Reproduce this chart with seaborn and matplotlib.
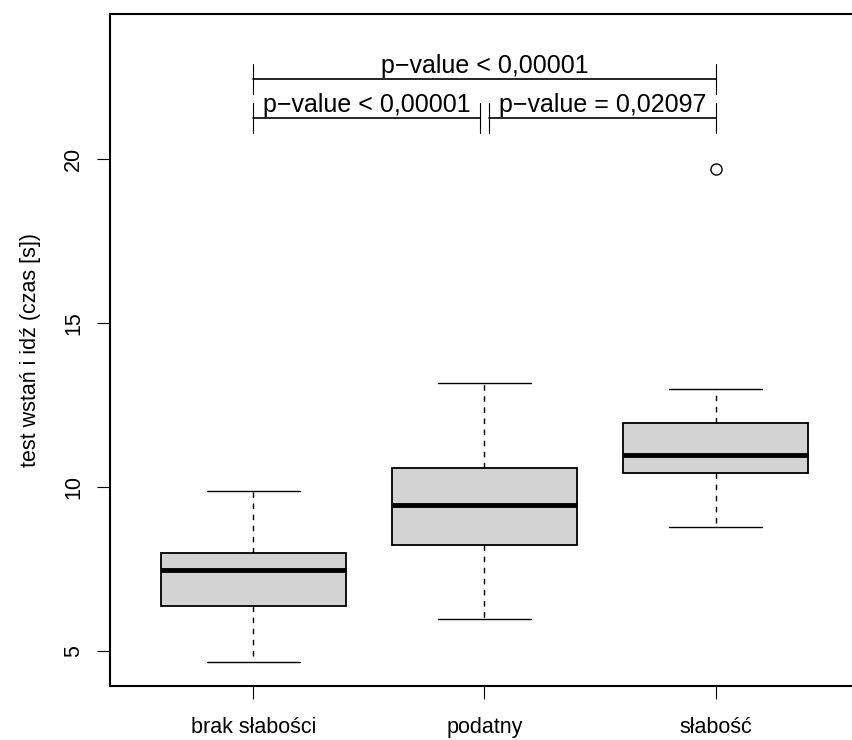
import matplotlib
matplotlib.use("Agg")
import matplotlib.pyplot as plt
import seaborn as sns

# Group labels and box summaries
groups = ["brak słabości", "podatny", "słabość"]
whisker_low = [4.66, 5.98, 8.78]
q1 = [6.37, 8.23, 10.43]
median = [7.47, 9.45, 10.98]
q3 = [7.99, 10.58, 11.95]
whisker_high = [9.88, 13.17, 12.99]
outliers = [[], [], [19.7]]

# comparisons: (from, to, label)
pairs = [(1, 2, "p\u2212value < 0,00001"),
         (2, 3, "p\u2212value = 0,02097"),
         (1, 3, "p\u2212value < 0,00001")]

sns.set_style("ticks")
plt.rcParams['font.family'] = ['Liberation Sans', 'DejaVu Sans']
plt.rcParams['text.color'] = 'black'
plt.rcParams['axes.labelcolor'] = 'black'

fig = plt.figure(figsize=(8.52, 7.4), dpi=100)
ax = fig.add_axes([0.1291, 0.0730, 0.879, 0.9081])

stats = []
for i in range(len(groups)):
    stats.append(dict(whislo=whisker_low[i], q1=q1[i], med=median[i],
                      q3=q3[i], whishi=whisker_high[i], fliers=outliers[i]))

ax.bxp(stats, positions=[1, 2, 3], widths=0.8, patch_artist=True,
       boxprops=dict(facecolor="#d3d3d3", edgecolor="black", linewidth=1.3),
       medianprops=dict(color="black", linewidth=3.5),
       whiskerprops=dict(color="black", linewidth=1.0, linestyle=(0, (4, 4))),
       capprops=dict(color="black", linewidth=1.0),
       capwidths=0.4,
       flierprops=dict(marker="o", markerfacecolor="none", markeredgecolor="black",
                       markersize=8, markeredgewidth=1.0))

ax.set_xlim(0.38, 3.62)
ax.set_ylim(3.93, 24.42)
ax.set_xticks([1, 2, 3])
ax.set_xticklabels(groups, fontsize=15.5)
ax.set_yticks([5, 10, 15, 20])
ax.set_yticklabels(["5", "10", "15", "20"], fontsize=15.5, rotation=90, va="center")
ax.tick_params(direction="out", length=9.5, width=0.8, colors="black")
ax.tick_params(axis="y", pad=9)
ax.tick_params(axis="x", pad=13)
ax.set_ylabel("test wstań i idź (czas [s])", fontsize=15.5, labelpad=16)
for s in ax.spines.values():
    s.set_linewidth(1.5)
    s.set_color("black")

# significance brackets
gap = 0.02
for a, b, txt in pairs:
    if b - a == 2:
        y = 22.44
        x0, x1 = a, b
    else:
        y = 21.25
        x0 = a + (gap if a == 2 else 0)
        x1 = b - (gap if b == 2 else 0)
    ax.plot([x0, x1], [y, y], color="black", lw=1.2)
    ax.plot([x0, x0], [y - 0.47, y + 0.47], color="black", lw=0.8)
    ax.plot([x1, x1], [y - 0.47, y + 0.47], color="black", lw=0.8)
    ax.text((x0 + x1) / 2, y + 0.18, txt, ha="center", va="baseline", fontsize=18)

fig.savefig("out.png", dpi=100)
